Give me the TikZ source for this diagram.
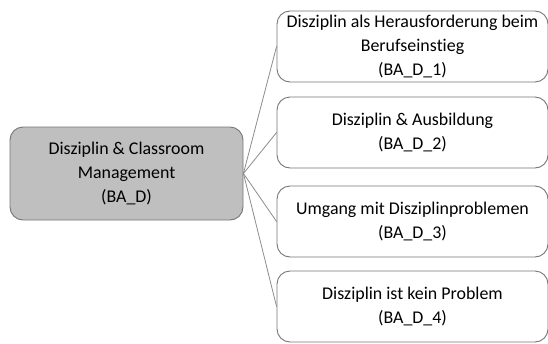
\documentclass[tikz,border=0pt]{standalone}
\usepackage{fontspec}
\setmainfont[RawFeature={-liga;-clig;-dlig;-calt}]{Carlito}
\definecolor{rootfill}{RGB}{191,191,191}
\definecolor{boxline}{RGB}{118,118,118}
\definecolor{fanline}{RGB}{140,140,140}
\begin{document}
\begin{tikzpicture}[x=1pt,y=-1pt,line cap=round,line join=round,
  box/.style={draw=boxline,line width=0.9pt,rounded corners=13pt,align=center,
    inner sep=0pt,font=\fontsize{17.9}{24}\selectfont},
  topic/.style={box,fill=rootfill,minimum width=233pt,minimum height=93pt},
  subtopic/.style={box,fill=white,minimum width=271pt,minimum height=71pt}]
	\useasboundingbox (0,0) rectangle (548,343);
	% main category
	\node[topic] (root) at (126.5,173.5) {Disziplin \& Classroom\\Management\\(BA\_D)};
	% subcategories
	\node[subtopic] (sub1) at (412.5,46.5) {Disziplin als Herausforderung beim\\Berufseins\kern0pt tieg\\(BA\_D\_1)};
	\node[subtopic] (sub2) at (412.5,132.5) {Disziplin \& Ausbildung\\(BA\_D\_2)};
	\node[subtopic] (sub3) at (412.5,221.5) {Umgang mit Disziplinproblemen\\(BA\_D\_3)};
	\node[subtopic] (sub4) at (412.5,306.5) {Disziplin ist kein Problem\\(BA\_D\_4)};
	
	\foreach \i in {1,...,4}
		\draw [fanline,line width=0.8pt] (root.east)-- (sub\i.west);
\end{tikzpicture}
\end{document}
